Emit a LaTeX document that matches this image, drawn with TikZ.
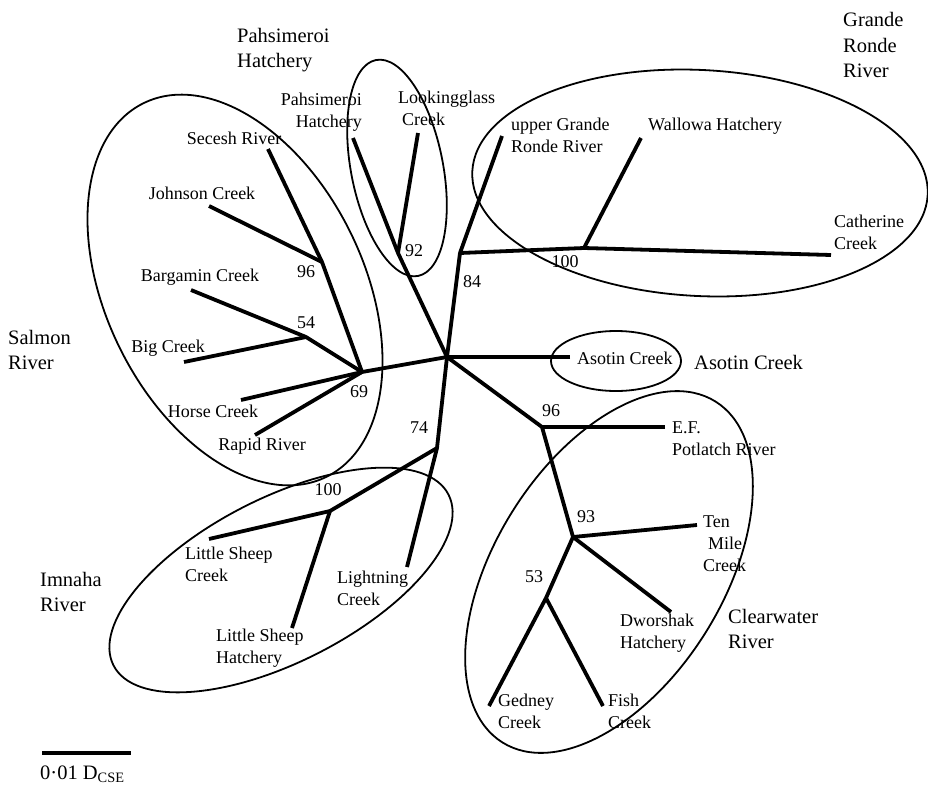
\documentclass[tikz,border=0pt]{standalone}
\usepackage{fontspec}
\setmainfont{Liberation Serif}
\usepackage{tikz}

\begin{document}
\begin{tikzpicture}[x=1pt,y=-1pt,
        branch/.style={line width=3.8pt,line join=round},
        ring/.style={line width=1.8pt},
        leaf/.style={inner sep=0pt,font=\fontsize{18}{22}\selectfont,align=left},
        boot/.style={inner sep=0pt,font=\fontsize{18}{22}\selectfont},
        group/.style={inner sep=0pt,font=\fontsize{20.5}{25.5}\selectfont,align=left,anchor=west}]
            \useasboundingbox (0,0) rectangle (928,787);

            % inner nodes
            \coordinate (ctr) at (447,357);
            \coordinate (S69) at (362,372);
            \coordinate (S96) at (322,262);
            \coordinate (S54) at (306,337);
            \coordinate (P92) at (398,253);
            \coordinate (G84) at (460,253);
            \coordinate (G100) at (584,248);
            \coordinate (C96) at (542,427);
            \coordinate (C93) at (573,537);
            \coordinate (C53) at (546,598);
            \coordinate (I74) at (437,448);
            \coordinate (I100) at (330,511);

            % leaf ends
            \coordinate (Sec) at (268,149);
            \coordinate (Joh) at (209,206);
            \coordinate (Bar) at (191,290);
            \coordinate (Big) at (184,362);
            \coordinate (Hor) at (241,400);
            \coordinate (Rap) at (255,435);
            \coordinate (Pah) at (353,138);
            \coordinate (Loo) at (418,133);
            \coordinate (Upp) at (502,136);
            \coordinate (Wal) at (641,138);
            \coordinate (Cat) at (831,255);
            \coordinate (Aso) at (570,357);
            \coordinate (EF) at (665,427);
            \coordinate (Ten) at (697,525);
            \coordinate (Dwo) at (671,612);
            \coordinate (Ged) at (489,706);
            \coordinate (Fis) at (603,706);
            \coordinate (LSC) at (209,539);
            \coordinate (LSH) at (292,628);
            \coordinate (Lig) at (407,567);

            \draw[branch] (Sec) -- (S96) -- (S69) -- (ctr) -- (G84) -- (G100) -- (Cat);
            \draw[branch] (Pah) -- (P92) -- (ctr) -- (C96) -- (C93) -- (C53) -- (Ged);
            \draw[branch] (Bar) -- (S54) -- (S69);
            \draw[branch] (ctr) -- (I74) -- (I100) -- (LSC);
        \foreach \a/\b in {Joh/S96,Big/S54,Hor/S69,Rap/S69,Loo/P92,Upp/G84,Wal/G100,
                Aso/ctr,EF/C96,Ten/C93,Dwo/C93,Fis/C53,LSH/I100,Lig/I74}
            \draw[branch] (\a) -- (\b);

            % groups
            \draw[ring,rotate around={116:(235,290)}] (235,290) ellipse (208 and 129);
            \draw[ring,rotate around={101:(397,168)}] (397,168) ellipse (110 and 46);
            \draw[ring,rotate around={-3:(700,183)}] (700,183) ellipse (228 and 113);
            \draw[ring] (616,361) ellipse (65 and 30);
            \draw[ring,rotate around={58:(609,572)}] (609,572) ellipse (201 and 114);
            \draw[ring,rotate around={27:(281,580)}] (281,580) ellipse (188 and 82);

            \node[leaf] (tSec) at (234,138) {Secesh River};
            \node[leaf] (tJoh) at (202,193) {Johnson Creek};
            \node[leaf] (tBar) at (200,277) {Bargamin Creek};
            \node[leaf] (tBig) at (168,348) {Big Creek};
            \node[leaf] (tHor) at (213,411) {Horse Creek};
            \node[leaf] (tRap) at (262,446) {Rapid River};
            \node[leaf,anchor=east,align=right] (tPah) at (362,112) {Pahsimeroi\\Hatchery};
            \node[leaf,anchor=west] (tLoo) at (398,108) {Lookingglass\\\hspace{4pt}Creek};
            \node[leaf,anchor=west] (tUpp) at (511,135) {upper Grande\\Ronde River};
            \node[leaf,anchor=west] (tWal) at (648,126) {Wallowa Hatchery};
            \node[leaf,anchor=west] (tCat) at (834,232) {Catherine\\Creek};
            \node[leaf,anchor=west] (tAso) at (577,358) {Asotin Creek};
            \node[leaf,anchor=west] (tEF) at (672,439) {E.F.\\Potlatch River};
            \node[leaf,anchor=west] (tTen) at (703,544) {Ten\\\hspace{5pt}Mile\\Creek};
            \node[leaf,anchor=west] (tDwo) at (620,633) {Dworshak\\Hatchery};
            \node[leaf,anchor=west] (tGed) at (498,711) {Gedney\\Creek};
            \node[leaf,anchor=west] (tFis) at (608,711) {Fish\\Creek};
            \node[leaf,anchor=west] (tLSC) at (185,564) {Little Sheep\\Creek};
            \node[leaf,anchor=west] (tLSH) at (216,648) {Little Sheep\\Hatchery};
            \node[leaf,anchor=west] (tLig) at (337,588) {Lightning\\Creek};

            \node[boot] (bS96) at (306,272) {96};
            \node[boot] (bS54) at (306,323) {54};
            \node[boot] (bS69) at (359,392) {69};
            \node[boot] (bP92) at (414,251) {92};
            \node[boot] (bG84) at (472,282) {84};
            \node[boot] (bG100) at (565,262) {100};
            \node[boot] (bC96) at (551,411) {96};
            \node[boot] (bC93) at (586,517) {93};
            \node[boot] (bC53) at (534,577) {53};
            \node[boot] (bI74) at (419,428) {74};
            \node[boot] (bI100) at (328,490) {100};

            \node[group] (gPah) at (237,50) {Pahsimeroi\\Hatchery};
            \node[group] (gGR) at (843,45) {Grande\\Ronde\\River};
            \node[group] (gSal) at (8,350) {Salmon\\River};
            \node[group] (gAso) at (694,362) {Asotin Creek};
            \node[group] (gCW) at (728,629) {Clearwater\\River};
            \node[group] (gIm) at (40,592) {Imnaha\\River};

            % scale bar
            \coordinate (sb1) at (42,753);
            \coordinate (sb2) at (131,753);
            \draw[line width=3.8pt] (sb1) -- (sb2);
            \node[group] (sbl) at (40,774) {0·01 D\textsubscript{CSE}};
        \end{tikzpicture}
\end{document}
